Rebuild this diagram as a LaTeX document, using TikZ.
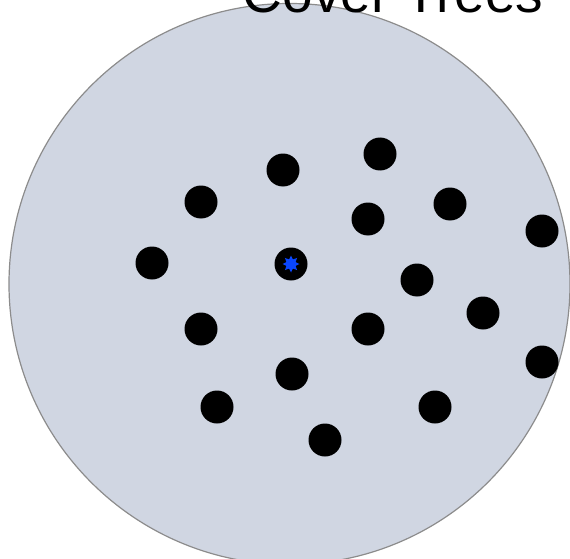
\documentclass[tikz,border=0pt]{standalone}
\usepackage{fontspec}
\setmainfont{Liberation Sans}
\usetikzlibrary{shapes.geometric}
\definecolor{ballfill}{RGB}{208,214,226}
\definecolor{balledge}{RGB}{140,140,140}
\definecolor{starblue}{RGB}{10,70,255}
\begin{document}
\begin{tikzpicture}[x=1pt,y=-1pt,
  ball/.style={circle,draw=balledge,line width=1.2pt,fill=ballfill,minimum size=561pt,inner sep=0pt},
  pt/.style={circle,fill=black,minimum size=33pt,inner sep=0pt},
  centermark/.style={star,star points=8,star point ratio=1.7,fill=starblue,minimum size=17pt,inner sep=0pt},
  titletext/.style={font=\fontsize{55}{60}\selectfont,anchor=base}]
\useasboundingbox (0,0) rectangle (570,559);
\clip (0,0) rectangle (570,559);
\node[ball] (ball) at (289.5,284) {};
\node[titletext] (title) at (393,13) {Cover Trees};
\node[pt] (p1) at (283,170) {};
\node[pt] (p2) at (380,154) {};
\node[pt] (p3) at (201,202) {};
\node[pt] (p4) at (368,219) {};
\node[pt] (p5) at (450,204) {};
\node[pt] (p6) at (542,231) {};
\node[pt] (p7) at (152,263) {};
\node[pt] (c) at (291,264) {};
\node[centermark] (cs) at (c) {};
\node[pt] (p8) at (417,280) {};
\node[pt] (p9) at (483,313) {};
\node[pt] (p10) at (201,329) {};
\node[pt] (p11) at (368,329) {};
\node[pt] (p12) at (542,362) {};
\node[pt] (p13) at (292,374) {};
\node[pt] (p14) at (217,407) {};
\node[pt] (p15) at (435,407) {};
\node[pt] (p16) at (325,440) {};
\end{tikzpicture}
\end{document}
